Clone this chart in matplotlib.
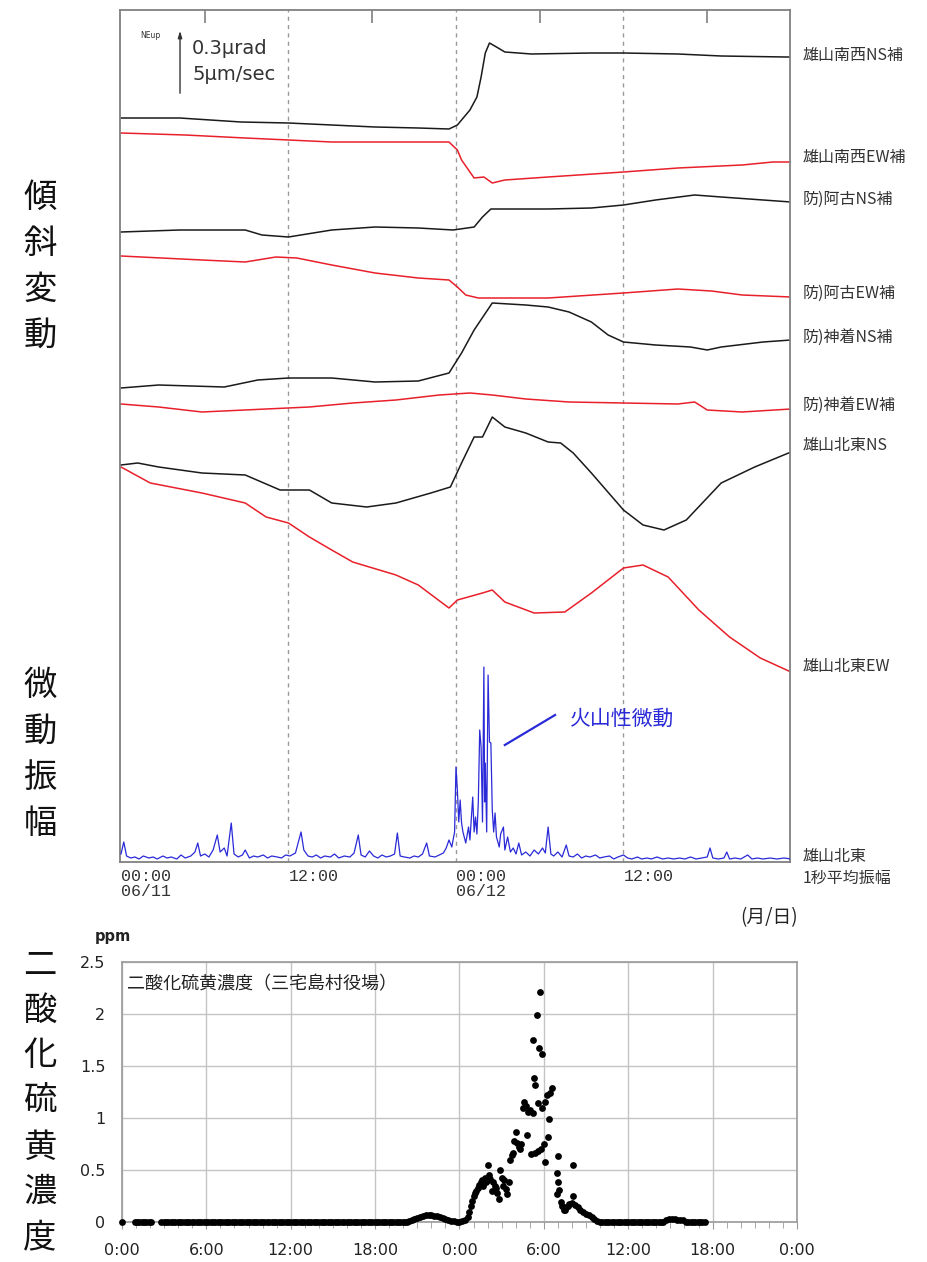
import numpy as np
import matplotlib.pyplot as plt

plt.rcParams['font.family'] = ['DejaVu Sans', 'Noto Sans CJK JP']
JP = ['Noto Sans CJK JP', 'DejaVu Sans']

W, H = 928, 1262


def fx(x):
    return x / W


def fy(y):
    return 1 - y / H


# --- tilt traces (hours from 06/11 00:00, chart level counted downwards) ---
sw_ns_t = [0, 4.2, 8.6, 12, 15.1, 18.2, 21.3, 23.5, 24.1, 25.0, 25.5, 25.8, 26.1, 26.4, 26.9, 27.5, 29.4, 33.7, 36, 39.9, 43, 47.6, 48]
sw_ns_y = [118, 118, 122, 123, 125, 127, 128, 129, 125, 110, 97, 77, 53, 43, 47, 52, 54, 53, 53, 54, 56, 57, 57]

sw_ew_t = [0, 4.6, 8.9, 12, 15.1, 18.2, 23.5, 24.1, 24.4, 24.9, 25.3, 26, 26.6, 27.5, 30.6, 36, 39.9, 44.5, 46.7, 48]
sw_ew_y = [133, 135, 138, 140, 142, 142, 142, 150, 160, 170, 178, 177, 183, 180, 177, 172, 168, 165, 162, 162]

ako_ns_t = [0, 4.2, 8.9, 10.1, 12, 15.1, 18.2, 21.3, 23.8, 25.3, 25.9, 26.5, 30.6, 33.7, 36, 38.3, 41.1, 43, 46, 48]
ako_ns_y = [232, 230, 230, 235, 237, 230, 227, 228, 230, 227, 217, 209, 209, 208, 205, 200, 195, 197, 200, 202]

ako_ew_t = [0, 5.8, 8.9, 11.1, 12.6, 15.1, 18.2, 21.3, 23.5, 24.1, 24.7, 25.6, 30.6, 36, 39.9, 42.3, 44.5, 48]
ako_ew_y = [256, 260, 262, 257, 258, 265, 273, 278, 280, 287, 295, 298, 298, 293, 289, 291, 295, 297]

kam_ns_t = [0, 2.7, 7.4, 9.8, 12, 15.1, 18.2, 21.3, 23.5, 24.4, 25.3, 26.6, 29, 30.6, 32.1, 33.7, 34.9, 36, 38.3, 40.8, 42, 43, 46, 48]
kam_ns_y = [388, 385, 387, 380, 378, 378, 382, 381, 373, 353, 330, 303, 305, 307, 312, 322, 335, 342, 345, 347, 350, 347, 342, 340]

kam_ew_t = [0, 2.7, 5.8, 10.4, 13.5, 16.6, 19.7, 22.8, 25, 26.6, 29, 32.1, 36, 39.9, 41.1, 42, 44.5, 48]
kam_ew_y = [404, 407, 412, 409, 407, 403, 400, 395, 393, 395, 399, 402, 403, 404, 402, 410, 412, 409]

ne_ns_t = [0, 1.2, 2.7, 5.8, 8.9, 11.4, 13.5, 15.1, 17.6, 19.7, 22.2, 23.6, 24.4, 25.3, 25.9, 26.6, 27.5, 29, 30.6, 31.5, 32.4, 33.7, 36, 37.4, 38.9, 40.5, 43, 45.4, 48]
ne_ns_y = [465, 463, 467, 473, 475, 490, 490, 503, 507, 503, 493, 487, 463, 437, 437, 417, 427, 433, 442, 443, 453, 473, 510, 525, 530, 520, 483, 467, 452]

ne_ew_t = [0, 2.1, 5.8, 8.9, 10.4, 12, 13.5, 15.1, 16.6, 19.7, 21.3, 23.5, 24.1, 25.9, 26.6, 27.5, 29.6, 31.8, 33.7, 36, 37.4, 39.2, 41.4, 43.6, 45.8, 48]
ne_ew_y = [467, 483, 493, 503, 517, 523, 537, 550, 562, 575, 585, 608, 600, 593, 590, 602, 613, 612, 593, 568, 565, 577, 610, 637, 658, 672]

# --- tremor amplitude (1 s mean), arbitrary units ---
trem_t = [0.0, 0.2, 0.4, 0.7, 1.0, 1.3, 1.6, 2.0, 2.3, 2.6, 3.0, 3.3, 3.6, 4.0, 4.3, 4.6, 5.0, 5.3, 5.5, 5.7,
          6.0, 6.3, 6.6, 6.9, 7.1, 7.4, 7.6, 7.9, 8.1, 8.4, 8.7, 8.9, 9.2, 9.5, 9.8, 10.2, 10.5, 10.8, 11.2, 11.5,
          11.8, 12.1, 12.5, 12.9, 13.1, 13.4, 13.7, 14.0, 14.3, 14.6, 15.0, 15.3, 15.6, 16.0, 16.4, 16.7, 17.0, 17.2,
          17.5, 17.8, 18.1, 18.4, 18.7, 19.0, 19.3, 19.6, 19.8, 20.0, 20.3, 20.7, 21.0, 21.3, 21.6, 21.9, 22.1, 22.5,
          22.8, 23.1, 23.3, 23.5, 23.7, 23.9, 24.0, 24.1, 24.2, 24.3, 24.4, 24.5, 24.7, 24.9, 25.0, 25.2, 25.3, 25.4,
          25.5, 25.6, 25.7, 25.8, 25.9, 26.0, 26.05, 26.1, 26.2, 26.3, 26.4, 26.5, 26.6, 26.7, 26.8, 26.9, 27.1,
          27.2, 27.4, 27.5, 27.7, 27.9, 28.1, 28.3, 28.5, 28.7, 29.0, 29.3, 29.6, 29.9, 30.2, 30.4, 30.6, 30.8, 31.0,
          31.3, 31.6, 31.9, 32.1, 32.4, 32.7, 33.0, 33.3, 33.6, 34.0, 34.3, 34.6, 35.0, 35.3, 35.6, 36.0, 36.3, 36.6,
          37.0, 37.3, 37.7, 38.0, 38.4, 38.8, 39.2, 39.6, 40.0, 40.4, 40.8, 41.2, 41.6, 42.0, 42.2, 42.4, 42.8, 43.2,
          43.4, 43.6, 44.0, 44.4, 44.9, 45.2, 45.6, 46.0, 46.5, 47.0, 47.5, 48.0]
trem_a = [8, 20, 6, 4, 5, 3, 6, 4, 5, 3, 6, 4, 5, 3, 7, 4, 6, 10, 19, 6,
          8, 5, 12, 27, 10, 14, 6, 39, 8, 5, 7, 12, 4, 6, 5, 7, 4, 6, 5, 4,
          7, 6, 9, 30, 12, 6, 5, 7, 4, 6, 5, 8, 4, 6, 5, 9, 27, 7,
          5, 11, 6, 4, 7, 5, 6, 8, 29, 6, 5, 4, 6, 5, 8, 19, 6, 5,
          7, 9, 14, 22, 15, 30, 95, 72, 40, 62, 39, 30, 19, 35, 22, 65, 30, 45,
          28, 60, 132, 115, 40, 195, 60, 99, 30, 187, 120, 119, 52, 30, 49, 25, 15,
          28, 35, 12, 25, 10, 14, 8, 19, 7, 10, 6, 12, 8, 14, 9, 35, 8, 6,
          10, 5, 17, 6, 5, 8, 4, 6, 5, 7, 4, 5, 6, 3, 5, 7, 4, 3,
          5, 3, 4, 3, 5, 3, 4, 3, 4, 3, 5, 3, 4, 5, 14, 4, 3, 4,
          10, 3, 4, 3, 7, 3, 4, 3, 4, 3, 4, 3]

# --- SO2 concentration (ppm), Miyake village office ---
so2_zero_t = list(np.arange(0.9, 2.15, 1 / 6)) + list(np.arange(2.8, 20.4, 1 / 6)) + \
    list(np.arange(34.0, 38.6, 1 / 6)) + list(np.arange(40.1, 41.55, 1 / 6))
so2_t = [0.0, 20.4, 20.6, 20.8, 21.0, 21.2, 21.4, 21.6, 21.8, 22.0, 22.2, 22.4, 22.6, 22.8, 23.0, 23.2, 23.4,
         23.6, 23.8, 24.0, 24.2, 24.4, 24.6, 24.7, 24.8, 24.9, 25.0, 25.1, 25.2, 25.3, 25.4, 25.5, 25.6, 25.7,
         25.8, 25.9, 26.0, 26.05, 26.1, 26.2, 26.3, 26.4, 26.5, 26.6, 26.7, 26.8, 26.9, 27.0, 27.1, 27.2, 27.3,
         27.4, 27.5, 27.6, 27.7, 27.8, 27.9, 28.0, 28.1, 28.2, 28.3, 28.4, 28.5, 28.6, 28.7, 28.8, 28.9, 29.0,
         29.1, 29.2, 29.25, 29.3, 29.35, 29.4, 29.5, 29.55, 29.6, 29.67, 29.73, 29.8, 29.84, 29.9, 30.0, 30.05,
         30.1, 30.2, 30.3, 30.4, 30.44, 30.56, 30.9, 31.0, 31.0, 31.05, 30.95, 31.2, 31.3, 31.4, 31.5, 31.6,
         31.7, 31.8, 32.0, 32.05, 32.1, 32.2, 32.4, 32.6, 32.8, 33.0, 33.2, 33.4, 33.6, 33.8,
         38.7, 38.9, 39.1, 39.3, 39.5, 39.7, 39.9]
so2_v = [0.0, 0.01, 0.02, 0.03, 0.04, 0.05, 0.06, 0.07, 0.07, 0.07, 0.06, 0.06, 0.05, 0.04, 0.03, 0.02, 0.01,
         0.01, 0.0, 0.0, 0.01, 0.02, 0.05, 0.1, 0.15, 0.2, 0.25, 0.28, 0.3, 0.33, 0.36, 0.38, 0.4, 0.35,
         0.42, 0.38, 0.4, 0.55, 0.45, 0.41, 0.3, 0.38, 0.35, 0.33, 0.28, 0.22, 0.5, 0.42, 0.35, 0.4, 0.32,
         0.27, 0.38, 0.6, 0.64, 0.66, 0.78, 0.87, 0.76, 0.72, 0.7, 0.75, 1.1, 1.15, 1.12, 0.84, 1.06, 1.08,
         0.65, 1.05, 1.75, 1.38, 1.32, 0.66, 1.99, 1.14, 0.68, 1.67, 2.21, 0.7, 1.62, 1.1, 0.75, 1.15,
         0.58, 1.22, 0.82, 0.99, 1.24, 1.29, 0.47, 0.63, 0.38, 0.31, 0.27, 0.19, 0.15, 0.12, 0.12, 0.14,
         0.15, 0.17, 0.18, 0.55, 0.25, 0.16, 0.14, 0.12, 0.1, 0.08, 0.07, 0.05, 0.03, 0.01,
         0.02, 0.03, 0.03, 0.03, 0.02, 0.02, 0.02]

top_ticks = [0, 12, 24, 36]
top_tick_labels = ['00:00\n06/11', '12:00', '00:00\n06/12', '12:00']
so2_ticks = [0, 6, 12, 18, 24, 30, 36, 42, 48]
so2_tick_labels = ['0:00', '6:00', '12:00', '18:00', '0:00', '6:00', '12:00', '18:00', '0:00']

BLACK = '#1a1a1a'
RED = '#e8202a'
BLUE = '#2a2ad8'

fig = plt.figure(figsize=(W / 100, H / 100), dpi=100)

# ---------------- top panel: tilt + tremor ----------------
rect = [fx(120), fy(862), 670 / W, 852 / H]
ax = fig.add_axes(rect)
ax.set_xlim(-0.07, 47.93)
ax.set_ylim(862, 10)
for s in ax.spines.values():
    s.set_color('#808080')
    s.set_linewidth(1.3)
ax.set_yticks([])
ax.set_xticks(top_ticks)
ax.set_xticklabels(top_tick_labels, family=['Liberation Mono', 'DejaVu Sans Mono'], fontsize=12,
                   color='#333333', linespacing=1.0)
for lbl in ax.get_xticklabels():
    lbl.set_horizontalalignment('left')
ax.tick_params(axis='x', length=0, pad=5)

top = ax.secondary_xaxis('top')
top.set_xticks([6, 18, 30, 42])
top.set_xticklabels([])
top.tick_params(direction='in', length=9, color='#808080', width=1.2)
top.spines['top'].set_visible(False)

for h in [12, 24, 36]:
    ax.axvline(h, color='#9a9a9a', lw=1, ls=(0, (3, 3)))

traces = [
    (sw_ns_t, sw_ns_y, BLACK), (sw_ew_t, sw_ew_y, RED),
    (ako_ns_t, ako_ns_y, BLACK), (ako_ew_t, ako_ew_y, RED),
    (kam_ns_t, kam_ns_y, BLACK), (kam_ew_t, kam_ew_y, RED),
    (ne_ns_t, ne_ns_y, BLACK), (ne_ew_t, ne_ew_y, RED),
]
for t, y, c in traces:
    ax.plot(t, y, color=c, lw=1.1)

# scale bar
ax.annotate('', xy=(4.23, 28), xytext=(4.23, 96),
            arrowprops=dict(arrowstyle='-|>,head_length=0.4,head_width=0.12', color='#333333', lw=1))
ax.text(1.35, 36, 'NEup', fontsize=5.5, color='#333333', va='center')
ax.text(5.1, 48, '0.3μrad', fontsize=14, color='#333333', va='center')
ax.text(5.1, 75, '5μm/sec', fontsize=14, color='#333333', va='center')

ax_tr = fig.add_axes(rect)
ax_tr.patch.set_visible(False)
ax_tr.axis('off')
ax_tr.set_xlim(-0.07, 47.93)
ax_tr.set_ylim(0, 852)
ax_tr.plot(trem_t, trem_a, color=BLUE, lw=0.9)
ax_tr.plot([27.5, 31.1], [117, 147], color=BLUE, lw=1.6)
ax_tr.text(32.2, 143, '火山性微動', family=JP, fontsize=15, color=BLUE, va='center')

# station labels on the right
right_labels = [
    (55, '雄山南西NS補'), (157, '雄山南西EW補'), (199, '防)阿古NS補'), (293, '防)阿古EW補'),
    (337, '防)神着NS補'), (405, '防)神着EW補'), (446, '雄山北東NS'), (667, '雄山北東EW'),
    (856, '雄山北東'), (878, '1秒平均振幅'),
]
for y, s in right_labels:
    fig.text(fx(803), fy(y), s, family=JP, fontsize=11.5, color='#333333', va='center', ha='left')

fig.text(fx(740), fy(918), '(月/日)', family=JP, fontsize=13.5, color='#222222', va='center')

# ---------------- bottom panel: SO2 ----------------
ax2 = fig.add_axes([fx(122), fy(1222), 675 / W, 260 / H])
ax2.set_xlim(0, 48)
ax2.set_ylim(0, 2.5)
ax2.set_xticks(so2_ticks)
ax2.set_xticklabels(so2_tick_labels)
ax2.set_xticks(range(0, 49), minor=True)
ax2.set_yticks([0, 0.5, 1, 1.5, 2, 2.5])
ax2.set_yticklabels(['0', '0.5', '1', '1.5', '2', '2.5'])
ax2.grid(True, color='#c4c4c4', lw=1)
ax2.set_axisbelow(True)
for s in ax2.spines.values():
    s.set_color('#9a9a9a')
    s.set_linewidth(1.2)
ax2.tick_params(axis='y', length=0, pad=12, labelsize=11.5, labelcolor='#222222')
ax2.tick_params(axis='x', which='major', length=5, color='#9a9a9a', pad=10, labelsize=11.5, labelcolor='#222222')
ax2.tick_params(axis='x', which='minor', length=4, color='#9a9a9a')
for lbl in ax2.get_xticklabels() + ax2.get_yticklabels():
    lbl.set_family(['Liberation Sans Narrow', 'DejaVu Sans'])

ax2.scatter(so2_zero_t, [0.0] * len(so2_zero_t), s=24, color='black', lw=0, zorder=3, clip_on=False)
ax2.scatter(so2_t, so2_v, s=24, color='black', lw=0, zorder=3, clip_on=False)
ax2.text(0.008, 0.915, '二酸化硫黄濃度（三宅島村役場）', transform=ax2.transAxes, family=JP,
         fontsize=13, color='#222222', va='center')
fig.text(fx(95), fy(937), 'ppm', fontsize=10.5, fontweight='bold', color='#222222', va='center')

# ---------------- vertical labels on the left ----------------
left_labels = [
    ('傾斜変動', 197, 46),
    ('微動振幅', 685, 46),
    ('二酸化硫黄濃度', 965, 45.5),
]
for word, y0, step in left_labels:
    for i, ch in enumerate(word):
        fig.text(fx(40), fy(y0 + i * step), ch, family=JP, fontsize=24, color='#111111',
                 ha='center', va='center')

fig.savefig('out.png', dpi=100)
